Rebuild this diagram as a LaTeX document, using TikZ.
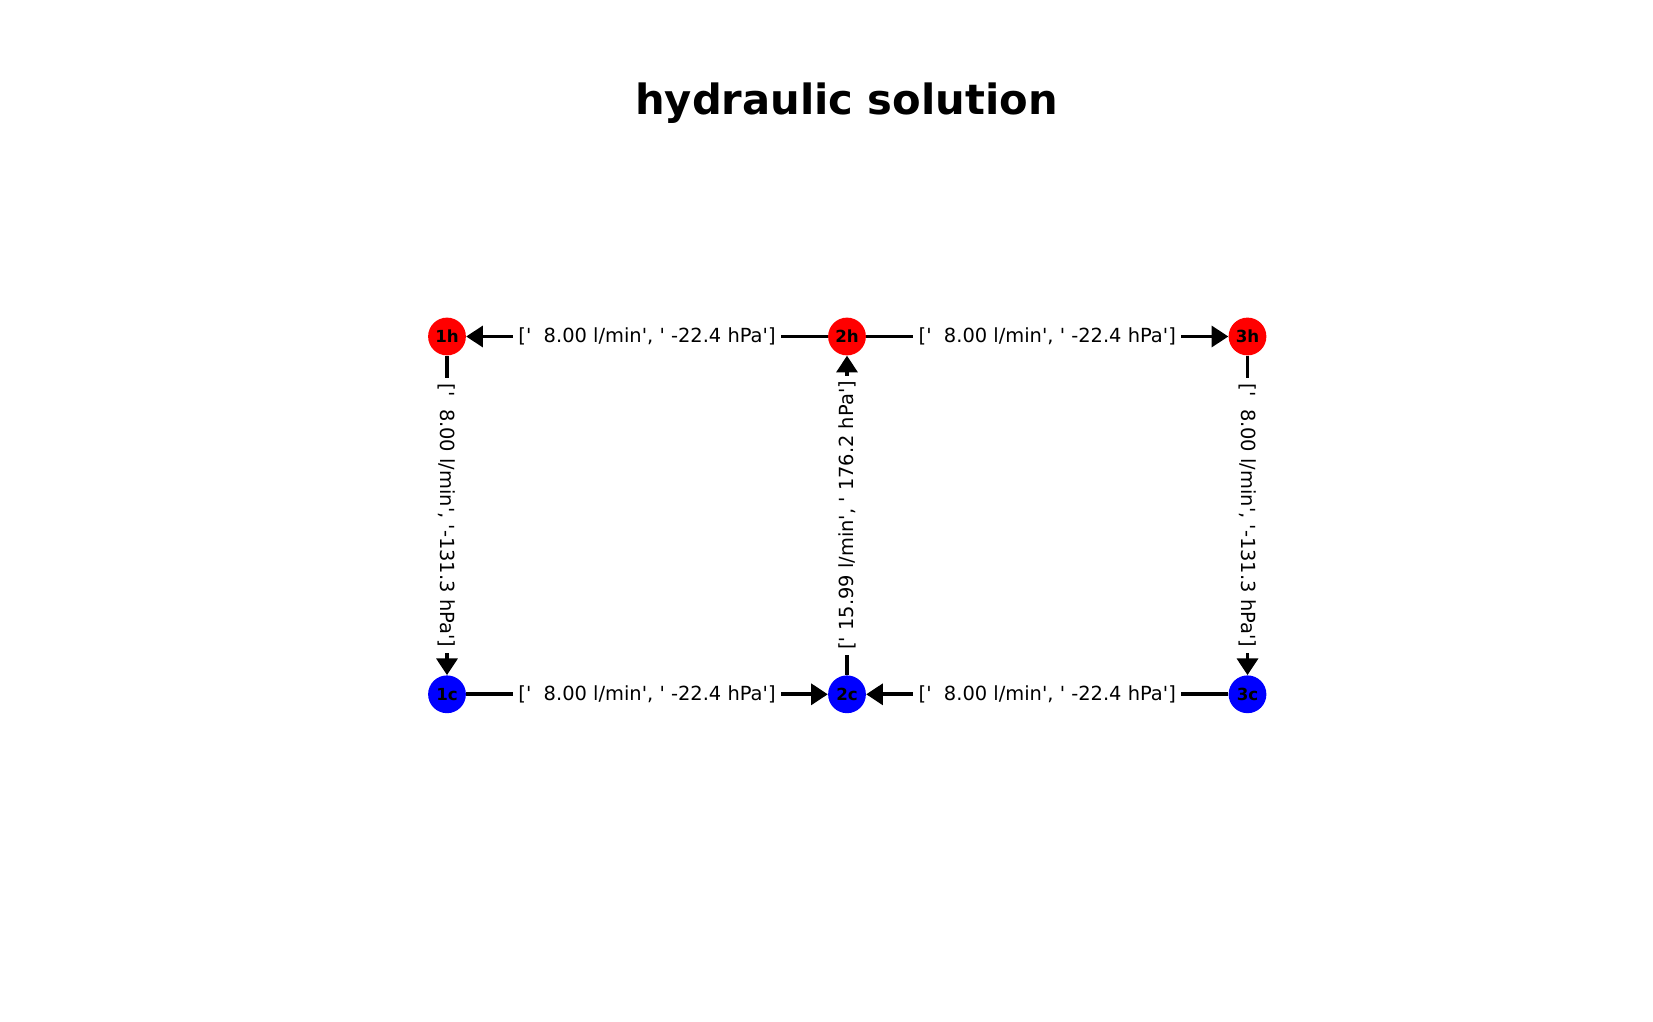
\documentclass[tikz,border=0pt]{standalone}
\usepackage{fontspec}
\setmainfont{DejaVu Sans}
\usetikzlibrary{arrows.meta}
\newcommand{\q}{\textquotesingle}

\begin{document}
\begin{tikzpicture}[
  x=0.72pt, y=-0.72pt,
  >={Triangle[length=12pt,width=15pt]},
  hot/.style={circle, fill=red, minimum size=27.2pt, inner sep=0pt, font=\fontsize{12}{14}\selectfont\bfseries},
  cold/.style={hot, fill=blue},
  flow/.style={->, line width=2.6pt},
  elabel/.style={fill=white, inner sep=4pt, font=\fontsize{14}{17}\selectfont}
]
\useasboundingbox (0,0) rectangle (1653,1022);
\node[font=\fontsize{30}{36}\selectfont\bfseries, anchor=base] (title) at (846.5,114.3) {hydraulic solution};

\node[hot] (n1h) at (447,336.5) {1h};
\node[hot] (n2h) at (847,336.5) {2h};
\node[hot] (n3h) at (1247.5,336.5) {3h};
\node[cold] (n1c) at (447,694.3) {1c};
\node[cold] (n2c) at (847,694.3) {2c};
\node[cold] (n3c) at (1247.5,694.3) {3c};

\draw[flow] (n2h) -- node[elabel] {[\q\ \ 8.00 l/min\q, \q\ -22.4 hPa\q]} (n1h);
\draw[flow] (n2h) -- node[elabel] {[\q\ \ 8.00 l/min\q, \q\ -22.4 hPa\q]} (n3h);
\draw[flow] (n1c) -- node[elabel] {[\q\ \ 8.00 l/min\q, \q\ -22.4 hPa\q]} (n2c);
\draw[flow] (n3c) -- node[elabel] {[\q\ \ 8.00 l/min\q, \q\ -22.4 hPa\q]} (n2c);
\draw[flow] (n1h) -- node[elabel, rotate=-90] {[\q\ \ 8.00 l/min\q, \q-131.3 hPa\q]} (n1c);
\draw[flow] (n3h) -- node[elabel, rotate=-90] {[\q\ \ 8.00 l/min\q, \q-131.3 hPa\q]} (n3c);
\draw[flow] (n2c) -- node[elabel, rotate=90] {[\q\ 15.99 l/min\q, \q\ 176.2 hPa\q]} (n2h);
\end{tikzpicture}
\end{document}
